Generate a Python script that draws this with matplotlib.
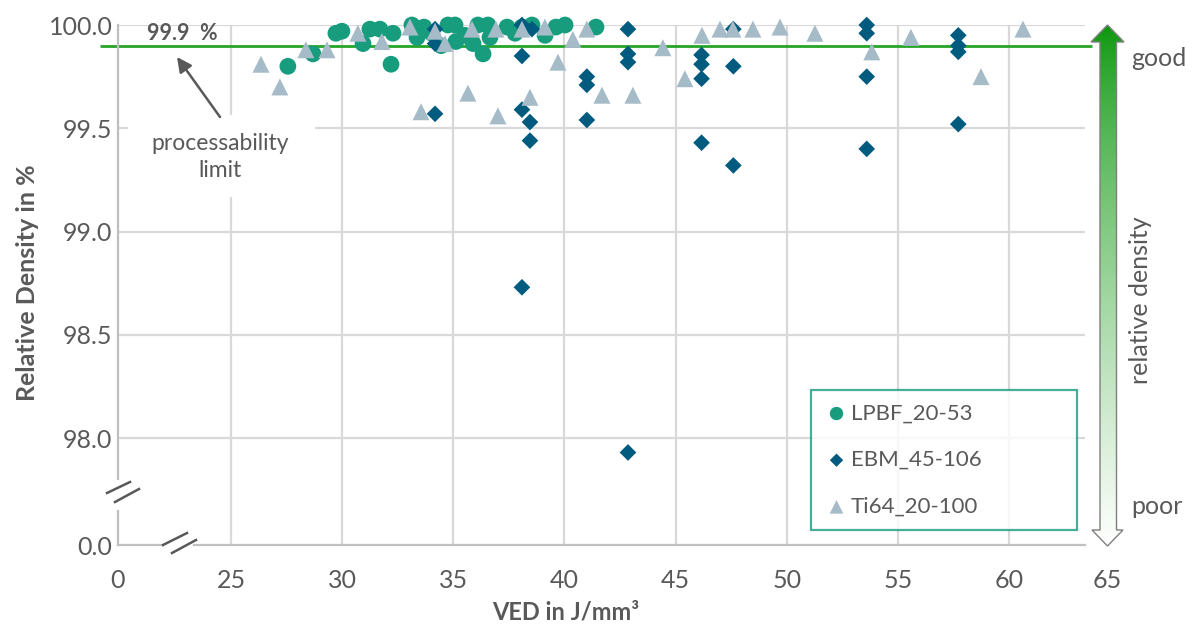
import numpy as np
import matplotlib
matplotlib.use("Agg")
import matplotlib.pyplot as plt
from matplotlib.patches import Polygon, Rectangle
from matplotlib.lines import Line2D

# ---------------- data ----------------
lpbf_ved = [27.56, 28.69, 29.72, 29.99, 30.94, 31.25, 31.70, 32.20, 32.29, 33.14,
            33.37, 33.68, 34.04, 34.45, 34.76, 35.08, 35.12, 35.53, 35.89, 36.11,
            36.34, 36.56, 36.65, 37.42, 37.78, 38.09, 38.54, 39.13, 39.62, 40.03,
            41.42]
lpbf_rd = [99.80, 99.86, 99.96, 99.97, 99.91, 99.98, 99.98, 99.81, 99.96, 100.0,
           99.94, 99.99, 99.96, 99.90, 100.0, 100.0, 99.92, 99.95, 99.91, 100.0,
           99.86, 100.0, 99.94, 99.99, 99.96, 99.99, 100.0, 99.95, 99.99, 100.0,
           99.99]

ebm_ved = [34.18, 34.18, 34.18, 38.09, 38.54, 38.09, 38.09, 38.45, 38.45, 38.09,
           41.01, 41.01, 41.01, 42.86, 42.86, 42.86, 42.86, 46.17, 46.17, 46.17,
           46.17, 47.60, 47.60, 47.60, 53.60, 53.60, 53.60, 53.60, 57.72, 57.72,
           57.72, 57.72]
ebm_rd = [99.57, 99.91, 99.98, 100.0, 99.98, 99.85, 99.59, 99.53, 99.44, 98.73,
          99.75, 99.71, 99.54, 99.98, 99.86, 99.82, 97.93, 99.855, 99.81, 99.74,
          99.43, 99.98, 99.80, 99.32, 100.0, 99.96, 99.75, 99.40, 99.95, 99.90,
          99.87, 99.52]

ti64_ved = [26.35, 27.20, 28.37, 29.32, 30.71, 31.79, 33.05, 33.55, 34.18, 34.63,
            35.66, 35.84, 36.92, 37.01, 38.09, 38.45, 39.12, 39.71, 40.38, 41.01,
            41.69, 43.08, 44.43, 45.42, 46.19, 47.00, 47.58, 48.48, 49.70, 51.27,
            53.83, 55.59, 58.74, 60.63]
ti64_rd = [99.81, 99.70, 99.88, 99.88, 99.96, 99.92, 99.99, 99.58, 99.97, 99.91,
           99.67, 99.98, 99.98, 99.56, 99.98, 99.65, 99.99, 99.82, 99.93, 99.98,
           99.66, 99.66, 99.89, 99.74, 99.95, 99.98, 99.98, 99.98, 99.99, 99.96,
           99.87, 99.94, 99.75, 99.98]

series_names = ["LPBF_20-53", "EBM_45-106", "Ti64_20-100"]
x_ticks = [0, 25, 30, 35, 40, 45, 50, 55, 60]
y_ticks = [0.0, 98.0, 98.5, 99.0, 99.5, 100.0]
limit_value = 99.9

# ---------------- colours ----------------
C_LPBF = "#179c7d"
C_EBM = "#005b7f"
C_TI = "#a6bbc8"
C_TEXT = "#595959"
C_GRID = "#d9d9d9"
C_SPINE = "#bfbfbf"
C_LIMIT = "#26a526"

plt.rcParams["font.family"] = ["Lato", "DejaVu Sans"]

# ---------------- broken axis scales ----------------
X_BRK = 25.0
X_K = 0.2033


def fwd_x(x):
    x = np.asarray(x, dtype=float)
    return np.where(x >= X_BRK, x, X_BRK - (X_BRK - x) * X_K)


def inv_x(u):
    u = np.asarray(u, dtype=float)
    return np.where(u >= X_BRK, u, X_BRK - (X_BRK - u) / X_K)


Y_BRK = 97.7
Y0 = 97.482


def fwd_y(y):
    y = np.asarray(y, dtype=float)
    return np.where(y >= Y_BRK, y, Y0 + y * (Y_BRK - Y0) / Y_BRK)


def inv_y(u):
    u = np.asarray(u, dtype=float)
    return np.where(u >= Y_BRK, u, (u - Y0) * Y_BRK / (Y_BRK - Y0))


W, H = 1195, 630
fig = plt.figure(figsize=(W / 100, H / 100), dpi=100)
ax = fig.add_axes([118 / W, (H - 545) / H, 967 / W, 520 / H])
ax.set_xscale("function", functions=(fwd_x, inv_x))
ax.set_yscale("function", functions=(fwd_y, inv_y))
ax.set_xlim(0, 63.42)
ax.set_ylim(0, 100.0)

# grid
for yv in y_ticks[1:]:
    ax.axhline(yv, color=C_GRID, lw=1.6, zorder=0)
for xv in x_ticks[1:]:
    ax.axvline(xv, color=C_GRID, lw=1.6, zorder=0)

for s in ax.spines.values():
    s.set_visible(False)

ax.set_xticks(x_ticks)
ax.set_xticklabels([str(v) for v in x_ticks])
ax.set_yticks(y_ticks)
ax.set_yticklabels([f"{v:.1f}" for v in y_ticks])
ax.tick_params(axis="both", length=0, labelsize=18, labelcolor=C_TEXT)
ax.tick_params(axis="x", pad=17)
ax.tick_params(axis="y", pad=4)
ax.text(1.0227, -0.068, "65", transform=ax.transAxes, ha="center", va="center",
        fontsize=18, color=C_TEXT)

# processability limit line
ax.hlines(limit_value, -0.019, 1.007, transform=ax.get_yaxis_transform(),
          color=C_LIMIT, lw=2, clip_on=False, zorder=2)

# data
ax.scatter(lpbf_ved, lpbf_rd, s=145, marker="o", color=C_LPBF, edgecolors="none",
           label=series_names[0], clip_on=False, zorder=3)
ax.scatter(ebm_ved, ebm_rd, s=72, marker="D", color=C_EBM, edgecolors="none",
           label=series_names[1], clip_on=False, zorder=4)
ax.scatter(ti64_ved, ti64_rd, s=150, marker="^", color=C_TI, edgecolors="none",
           label=series_names[2], clip_on=False, zorder=5)

ax.set_xlabel("VED in J/mm³", fontsize=17, fontweight="bold", color=C_TEXT)
ax.set_ylabel("Relative Density in %", fontsize=18, fontweight="bold", color=C_TEXT)
ax.xaxis.set_label_coords(0.463, -0.129)
ax.yaxis.set_label_coords(-0.094, 0.504)
ax.xaxis.label.set_va("center")
ax.yaxis.label.set_va("center")

leg = ax.legend(loc="lower left", bbox_to_anchor=(0.7166, 0.0288, 0.275, 0.267),
                mode="expand", frameon=True, fancybox=False, fontsize=16,
                labelspacing=1.2, handletextpad=0.1, handlelength=1.1,
                borderpad=0.6, borderaxespad=0, markerscale=0.8,
                labelcolor=C_TEXT)
leg.get_frame().set_edgecolor(C_LPBF)
leg.get_frame().set_linewidth(1.6)
leg.set_zorder(6)

# ---------------- decorations in pixel space ----------------
deco = fig.add_axes([0, 0, 1, 1])
deco.patch.set_visible(False)
deco.axis("off")

# axis lines with breaks
deco.add_line(Line2D([118, 118], [25, 479], color=C_SPINE, lw=1.6))
deco.add_line(Line2D([118, 118], [511, 545], color=C_SPINE, lw=1.6))
deco.add_line(Line2D([118, 163], [545, 545], color=C_SPINE, lw=1.6))
deco.add_line(Line2D([194, 1085], [545, 545], color=C_SPINE, lw=1.6))
for (x0, y0, x1, y1) in [(107, 493, 130, 482), (115, 502, 139, 489),
                         (163, 545, 187, 533), (172, 553, 196, 540)]:
    deco.add_line(Line2D([x0, x1], [y0, y1], color=C_TEXT, lw=1.8))

# limit annotation
deco.text(147, 33, "99.9  %", ha="left", va="center", fontsize=15.5,
          fontweight="bold", color=C_TEXT)
deco.add_patch(Rectangle((128, 115), 187, 82, facecolor="white", edgecolor="none"))
deco.text(220, 157, "processability\nlimit", ha="center", va="center",
          fontsize=16.5, color=C_TEXT, linespacing=1.3)
deco.annotate("", xy=(177, 57), xytext=(220, 117),
              arrowprops=dict(arrowstyle="-|>", color=C_TEXT, lw=1.8,
                              mutation_scale=22, shrinkA=0, shrinkB=0))

# gradient arrow on the right
arrow_pts = [(1107.5, 25), (1124, 42), (1116.5, 42), (1116.5, 530), (1123, 530),
             (1107.5, 546), (1092, 530), (1100, 530), (1100, 42), (1091, 42)]
arrow = Polygon(arrow_pts, closed=True, facecolor="none", edgecolor="#7f7f7f", lw=1.0,
                zorder=3)
deco.add_patch(arrow)
t = np.linspace(0, 1, 256)[:, None]
top = np.array([10, 150, 10]) / 255.0
grad = top + (1 - top) * (t ** 0.75)[:, :, None] * np.ones((1, 1, 3))
img = deco.imshow(grad, extent=[1090, 1125, 547, 25], aspect="auto",
                  interpolation="bilinear", zorder=2)
img.set_clip_path(arrow)
deco.set_xlim(0, W)
deco.set_ylim(H, 0)

deco.text(1131, 58, "good", ha="left", va="center", fontsize=18, color=C_TEXT)
deco.text(1131, 507, "poor", ha="left", va="center", fontsize=18, color=C_TEXT)
deco.text(1141, 300, "relative density", ha="center", va="center", rotation=90,
          fontsize=18, color=C_TEXT)

fig.savefig("out.png", dpi=100)
